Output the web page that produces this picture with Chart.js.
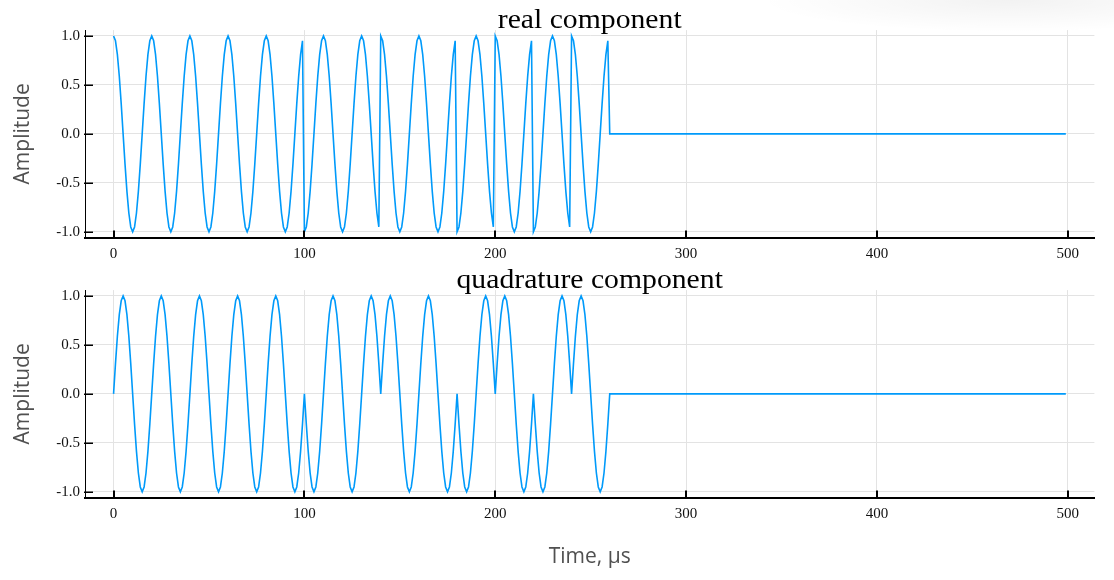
<!DOCTYPE html>
<html>
<head>
<meta charset="utf-8">
<title>real and quadrature component</title>
<script src="https://cdn.jsdelivr.net/npm/chart.js@4.4.1/dist/chart.umd.min.js"></script>
<style>
  html, body { margin: 0; padding: 0; }
  body {
    width: 1114px; height: 580px; position: relative; overflow: hidden;
    background: radial-gradient(ellipse 250px 32px at 1010px 0px, rgba(0,0,0,0.05), rgba(0,0,0,0)) #fff;
  }
  .panel { position: absolute; left: 0; }
  .panel canvas { display: block; }
  #top { top: 0; }
  #bottom { top: 260px; }
</style>
</head>
<body>
<div class="panel" id="top"><canvas id="realChart" width="1114" height="260"></canvas></div>
<div class="panel" id="bottom"><canvas id="quadChart" width="1114" height="320"></canvas></div>
<script>
'use strict';

// Sample times in µs (one sample per µs while the pulse is on, then the flat tail)
const sampleTimes = [
    0, 1, 2, 3, 4, 5, 6, 7, 8, 9, 10, 11, 12, 13, 14, 15, 16, 17, 18, 19,
    20, 21, 22, 23, 24, 25, 26, 27, 28, 29, 30, 31, 32, 33, 34, 35, 36, 37, 38, 39,
    40, 41, 42, 43, 44, 45, 46, 47, 48, 49, 50, 51, 52, 53, 54, 55, 56, 57, 58, 59,
    60, 61, 62, 63, 64, 65, 66, 67, 68, 69, 70, 71, 72, 73, 74, 75, 76, 77, 78, 79,
    80, 81, 82, 83, 84, 85, 86, 87, 88, 89, 90, 91, 92, 93, 94, 95, 96, 97, 98, 99,
    100, 101, 102, 103, 104, 105, 106, 107, 108, 109, 110, 111, 112, 113, 114, 115, 116, 117, 118, 119,
    120, 121, 122, 123, 124, 125, 126, 127, 128, 129, 130, 131, 132, 133, 134, 135, 136, 137, 138, 139,
    140, 141, 142, 143, 144, 145, 146, 147, 148, 149, 150, 151, 152, 153, 154, 155, 156, 157, 158, 159,
    160, 161, 162, 163, 164, 165, 166, 167, 168, 169, 170, 171, 172, 173, 174, 175, 176, 177, 178, 179,
    180, 181, 182, 183, 184, 185, 186, 187, 188, 189, 190, 191, 192, 193, 194, 195, 196, 197, 198, 199,
    200, 201, 202, 203, 204, 205, 206, 207, 208, 209, 210, 211, 212, 213, 214, 215, 216, 217, 218, 219,
    220, 221, 222, 223, 224, 225, 226, 227, 228, 229, 230, 231, 232, 233, 234, 235, 236, 237, 238, 239,
    240, 241, 242, 243, 244, 245, 246, 247, 248, 249, 250, 251, 252, 253, 254, 255, 256, 257, 258, 259,
    260, 499
];

// Real component
const realValues = [
    1, 0.951, 0.809, 0.588, 0.309, 0, -0.309, -0.588, -0.809, -0.951, -1, -0.951, -0.809, -0.588, -0.309, 0, 0.309, 0.588, 0.809, 0.951,
    1, 0.951, 0.809, 0.588, 0.309, 0, -0.309, -0.588, -0.809, -0.951, -1, -0.951, -0.809, -0.588, -0.309, 0, 0.309, 0.588, 0.809, 0.951,
    1, 0.951, 0.809, 0.588, 0.309, 0, -0.309, -0.588, -0.809, -0.951, -1, -0.951, -0.809, -0.588, -0.309, 0, 0.309, 0.588, 0.809, 0.951,
    1, 0.951, 0.809, 0.588, 0.309, 0, -0.309, -0.588, -0.809, -0.951, -1, -0.951, -0.809, -0.588, -0.309, 0, 0.309, 0.588, 0.809, 0.951,
    1, 0.951, 0.809, 0.588, 0.309, 0, -0.309, -0.588, -0.809, -0.951, -1, -0.951, -0.809, -0.588, -0.309, 0, 0.309, 0.588, 0.809, 0.951,
    -1, -0.951, -0.809, -0.588, -0.309, 0, 0.309, 0.588, 0.809, 0.951, 1, 0.951, 0.809, 0.588, 0.309, 0, -0.309, -0.588, -0.809, -0.951,
    -1, -0.951, -0.809, -0.588, -0.309, 0, 0.309, 0.588, 0.809, 0.951, 1, 0.951, 0.809, 0.588, 0.309, 0, -0.309, -0.588, -0.809, -0.951,
    1, 0.951, 0.809, 0.588, 0.309, 0, -0.309, -0.588, -0.809, -0.951, -1, -0.951, -0.809, -0.588, -0.309, 0, 0.309, 0.588, 0.809, 0.951,
    1, 0.951, 0.809, 0.588, 0.309, 0, -0.309, -0.588, -0.809, -0.951, -1, -0.951, -0.809, -0.588, -0.309, 0, 0.309, 0.588, 0.809, 0.951,
    -1, -0.951, -0.809, -0.588, -0.309, 0, 0.309, 0.588, 0.809, 0.951, 1, 0.951, 0.809, 0.588, 0.309, 0, -0.309, -0.588, -0.809, -0.951,
    1, 0.951, 0.809, 0.588, 0.309, 0, -0.309, -0.588, -0.809, -0.951, -1, -0.951, -0.809, -0.588, -0.309, 0, 0.309, 0.588, 0.809, 0.951,
    -1, -0.951, -0.809, -0.588, -0.309, 0, 0.309, 0.588, 0.809, 0.951, 1, 0.951, 0.809, 0.588, 0.309, 0, -0.309, -0.588, -0.809, -0.951,
    1, 0.951, 0.809, 0.588, 0.309, 0, -0.309, -0.588, -0.809, -0.951, -1, -0.951, -0.809, -0.588, -0.309, 0, 0.309, 0.588, 0.809, 0.951,
    0, 0
];

// Quadrature component
const quadValues = [
    0, 0.309, 0.588, 0.809, 0.951, 1, 0.951, 0.809, 0.588, 0.309, 0, -0.309, -0.588, -0.809, -0.951, -1, -0.951, -0.809, -0.588, -0.309,
    0, 0.309, 0.588, 0.809, 0.951, 1, 0.951, 0.809, 0.588, 0.309, 0, -0.309, -0.588, -0.809, -0.951, -1, -0.951, -0.809, -0.588, -0.309,
    0, 0.309, 0.588, 0.809, 0.951, 1, 0.951, 0.809, 0.588, 0.309, 0, -0.309, -0.588, -0.809, -0.951, -1, -0.951, -0.809, -0.588, -0.309,
    0, 0.309, 0.588, 0.809, 0.951, 1, 0.951, 0.809, 0.588, 0.309, 0, -0.309, -0.588, -0.809, -0.951, -1, -0.951, -0.809, -0.588, -0.309,
    0, 0.309, 0.588, 0.809, 0.951, 1, 0.951, 0.809, 0.588, 0.309, 0, -0.309, -0.588, -0.809, -0.951, -1, -0.951, -0.809, -0.588, -0.309,
    0, -0.309, -0.588, -0.809, -0.951, -1, -0.951, -0.809, -0.588, -0.309, 0, 0.309, 0.588, 0.809, 0.951, 1, 0.951, 0.809, 0.588, 0.309,
    0, -0.309, -0.588, -0.809, -0.951, -1, -0.951, -0.809, -0.588, -0.309, 0, 0.309, 0.588, 0.809, 0.951, 1, 0.951, 0.809, 0.588, 0.309,
    0, 0.309, 0.588, 0.809, 0.951, 1, 0.951, 0.809, 0.588, 0.309, 0, -0.309, -0.588, -0.809, -0.951, -1, -0.951, -0.809, -0.588, -0.309,
    0, 0.309, 0.588, 0.809, 0.951, 1, 0.951, 0.809, 0.588, 0.309, 0, -0.309, -0.588, -0.809, -0.951, -1, -0.951, -0.809, -0.588, -0.309,
    0, -0.309, -0.588, -0.809, -0.951, -1, -0.951, -0.809, -0.588, -0.309, 0, 0.309, 0.588, 0.809, 0.951, 1, 0.951, 0.809, 0.588, 0.309,
    0, 0.309, 0.588, 0.809, 0.951, 1, 0.951, 0.809, 0.588, 0.309, 0, -0.309, -0.588, -0.809, -0.951, -1, -0.951, -0.809, -0.588, -0.309,
    0, -0.309, -0.588, -0.809, -0.951, -1, -0.951, -0.809, -0.588, -0.309, 0, 0.309, 0.588, 0.809, 0.951, 1, 0.951, 0.809, 0.588, 0.309,
    0, 0.309, 0.588, 0.809, 0.951, 1, 0.951, 0.809, 0.588, 0.309, 0, -0.309, -0.588, -0.809, -0.951, -1, -0.951, -0.809, -0.588, -0.309,
    0, 0
];

// Axis ticks
const xTicks = [0, 100, 200, 300, 400, 500];
const xTickLabels = ['0', '100', '200', '300', '400', '500'];
const yTicks = [-1, -0.5, 0, 0.5, 1];
const yTickLabels = ['-1.0', '-0.5', '0.0', '0.5', '1.0'];

const lineColor = 'rgb(0, 154, 250)';
const gridColor = '#e3e3e3';
const serif = "'Liberation Serif', 'Times New Roman', serif";
const sans = "'Open Sans', 'Noto Sans', sans-serif";

// Inward tick marks + the serif subplot title
const panelDecor = {
    id: 'panelDecor',
    afterDraw(chart, args, opts) {
        const {ctx, chartArea, scales} = chart;
        ctx.save();
        ctx.strokeStyle = '#000';
        ctx.lineWidth = 2;
        scales.x.ticks.forEach(t => {
            const px = Math.round(scales.x.getPixelForValue(t.value));
            ctx.beginPath();
            ctx.moveTo(px, chartArea.bottom);
            ctx.lineTo(px, chartArea.bottom - 7);
            ctx.stroke();
        });
        ctx.lineWidth = 1.5;
        scales.y.ticks.forEach(t => {
            const py = Math.round(scales.y.getPixelForValue(t.value)) + 0.25;
            ctx.beginPath();
            ctx.moveTo(chartArea.left - 1, py);
            ctx.lineTo(chartArea.left + 8, py);
            ctx.stroke();
        });

        ctx.fillStyle = '#000';
        ctx.font = '27px ' + serif;
        ctx.textAlign = 'center';
        ctx.textBaseline = 'alphabetic';
        ctx.translate((chartArea.left + chartArea.right) / 2, 28.3);
        ctx.scale(1.1, 1);
        ctx.fillText(opts.text, 0, 0);
        ctx.restore();
    }
};

function makeChart(canvasId, values, title, axisHeight, showTimeLabel) {
    const ctx = document.getElementById(canvasId).getContext('2d');
    return new Chart(ctx, {
        type: 'line',
        data: {
            labels: sampleTimes,
            datasets: [{
                data: values,
                borderColor: lineColor,
                borderWidth: 1.6,
                pointRadius: 0,
                tension: 0,
                fill: false
            }]
        },
        options: {
            responsive: false,
            animation: false,
            devicePixelRatio: 1,
            events: [],
            layout: {padding: {top: 30.1, right: 19.6, left: 0, bottom: 0}},
            plugins: {
                legend: {display: false},
                tooltip: {enabled: false},
                title: {display: false},
                panelDecor: {text: title}
            },
            scales: {
                x: {
                    type: 'linear',
                    min: -14.97,
                    max: 513.97,
                    afterBuildTicks: scale => { scale.ticks = xTicks.map(v => ({value: v})); },
                    afterFit: scale => { scale.height = axisHeight; },
                    grid: {color: gridColor, lineWidth: 1, drawTicks: false},
                    border: {display: true, color: '#000', width: 2},
                    ticks: {
                        autoSkip: false,
                        maxRotation: 0,
                        padding: 7.5,
                        color: '#111',
                        font: {family: serif, size: 15},
                        callback: (value, index) => xTickLabels[index]
                    },
                    title: {
                        display: showTimeLabel,
                        text: 'Time, µs',
                        color: '#505050',
                        font: {family: sans, size: 21},
                        padding: {top: 0, bottom: 10.4}
                    }
                },
                y: {
                    type: 'linear',
                    min: -1.06,
                    max: 1.06,
                    afterBuildTicks: scale => { scale.ticks = yTicks.map(v => ({value: v})); },
                    afterFit: scale => { scale.width = 85; },
                    grid: {color: gridColor, lineWidth: 1, drawTicks: false},
                    border: {display: true, color: '#000', width: 1},
                    ticks: {
                        autoSkip: false,
                        padding: 5,
                        color: '#111',
                        font: {family: serif, size: 15},
                        callback: (value, index) => yTickLabels[index]
                    },
                    title: {
                        display: true,
                        text: 'Amplitude',
                        color: '#505050',
                        font: {family: sans, size: 21},
                        padding: {top: 10, bottom: 0}
                    }
                }
            }
        },
        plugins: [panelDecor]
    });
}

makeChart('realChart', realValues, 'real component', 22.4, false);
makeChart('quadChart', quadValues, 'quadrature component', 82.4, true);
</script>
</body>
</html>
